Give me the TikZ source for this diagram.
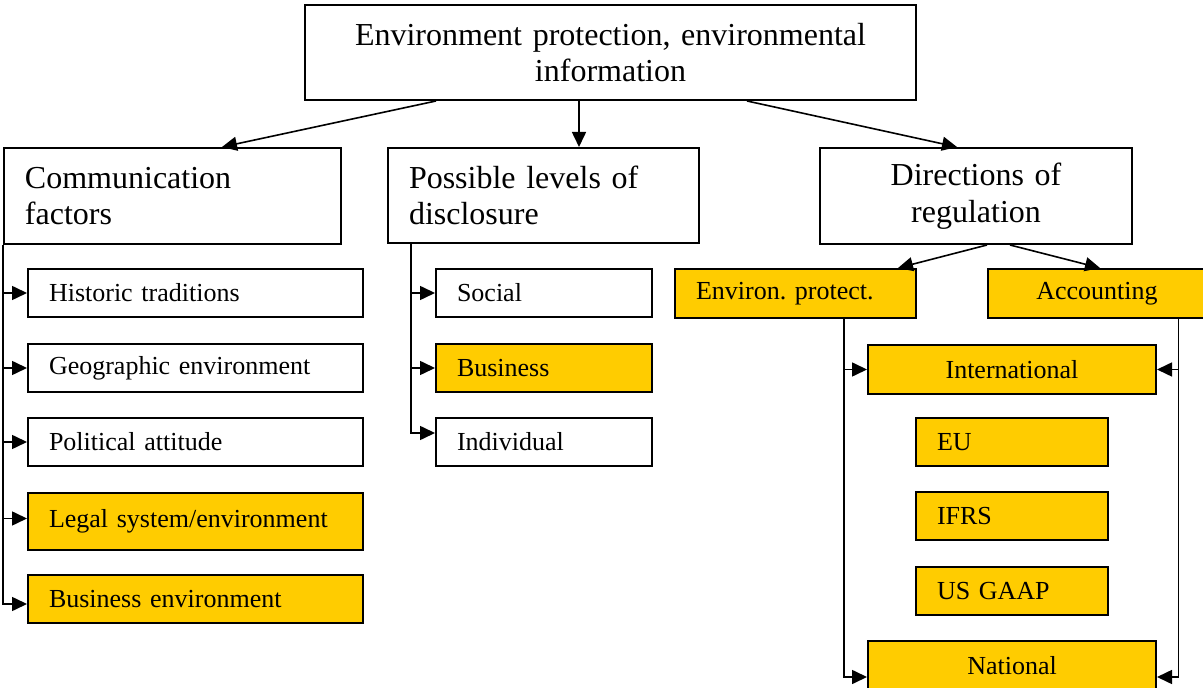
\documentclass[tikz,border=0pt]{standalone}
\usepackage{fontspec}
\setmainfont{Liberation Serif}
\usetikzlibrary{arrows.meta}
\definecolor{boxgold}{RGB}{255,204,0}
\frenchspacing
\tikzset{
  box/.style={draw, line width=1pt, anchor=north west, inner ysep=0pt, font=\fontsize{13}{15}\selectfont},
  leftbox/.style={box, inner xsep=10.5pt, align=left},
  midbox/.style={box, inner xsep=4pt, align=center},
  bigtext/.style={font=\fontsize{16}{18.3}\selectfont},
  gold/.style={fill=boxgold},
  link/.style={line width=0.8pt, -{Triangle[length=7.5pt,width=7pt]}}
}

\begin{document}
\begin{tikzpicture}[x=0.5pt, y=-0.5pt]
			%%%%% START %%%%%
			\useasboundingbox (0,0) rectangle (1203,688);
			
			\node[midbox, bigtext, text width=297.5pt, minimum height=47.5pt] (top) at (304,4) {Environment protection, environmental\\information};
			
			\node[leftbox, bigtext, text width=147.5pt, minimum height=48pt] (comm) at (3,147) {Communication\\factors};
			\node[leftbox, bigtext, text width=134.5pt, minimum height=47.5pt] (lev) at (387,147) {Possible levels of\\disclosure};
			\node[midbox, bigtext, text width=148pt, minimum height=48pt] (dirs) at (819,147) {Directions of\\regulation};
			
			\node[leftbox, text width=146.5pt, minimum height=24pt] (hist) at (27,268) {Historic traditions};
			\node[leftbox, text width=146.5pt, minimum height=24pt] (geo) at (27,343) {Geographic environment};
			\node[leftbox, text width=146.5pt, minimum height=24pt] (pol) at (27,417) {Political attitude};
			\node[leftbox, gold, text width=146.5pt, minimum height=28.5pt] (legal) at (27,492) {Legal system/environment};
			\node[leftbox, gold, text width=146.5pt, minimum height=24pt] (busenv) at (27,574) {Business environment};
			
			\node[leftbox, text width=87pt, minimum height=24pt] (soc) at (435,268) {Social};
			\node[leftbox, gold, text width=87pt, minimum height=24pt] (bus) at (435,343) {Business};
			\node[leftbox, text width=87pt, minimum height=24pt] (ind) at (435,417) {Individual};
			
			\node[leftbox, gold, text width=99.5pt, minimum height=24.5pt] (env) at (674,268) {Environ. protect.};
			\node[midbox, gold, text width=101pt, minimum height=24.5pt] (acc) at (987,268) {Accounting};
			\node[midbox, gold, text width=136pt, minimum height=24.5pt] (intl) at (867,344) {International};
			\node[leftbox, gold, text width=75pt, minimum height=24pt] (eu) at (915,417) {EU};
			\node[leftbox, gold, text width=75pt, minimum height=24pt] (ifrs) at (915,491) {IFRS};
			\node[leftbox, gold, text width=75pt, minimum height=24pt] (usgaap) at (915,566) {US GAAP};
			\node[midbox, gold, text width=136pt, minimum height=25pt] (natl) at (867,640) {National};
			
			% from the top box
			\draw[link] ([xshift=66pt]top.south west) -- ([xshift=109.5pt]comm.north west);
			\draw[link] ([xshift=137.5pt]top.south west) -- ([xshift=96pt]lev.north west);
			\draw[link] ([xshift=221.5pt]top.south west) -- ([xshift=69pt]dirs.north west);
			
			% communication factors
			\draw[link] (comm.south west) |- (hist.west);
			\draw[link] (comm.south west) |- (geo.west);
			\draw[link] (comm.south west) |- (pol.west);
			\draw[link] (comm.south west) |- ([yshift=1.5pt]legal.west);
			\draw[link] (comm.south west) |- ([yshift=-2.5pt]busenv.west);
			
			% levels of disclosure
			\coordinate (lspine) at ([xshift=12pt]lev.south west);
			\draw[link] (lspine) |- (soc.west);
			\draw[link] (lspine) |- (bus.west);
			\draw[link] (lspine) |- ([yshift=4.5pt]ind.west);
			
			% directions of regulation
			\draw[link] ([xshift=84pt]dirs.south west) -- ([xshift=112pt]env.north west);
			\draw[link] ([xshift=95.5pt]dirs.south west) -- ([xshift=56.5pt]acc.north west);
			\coordinate (espine) at ([xshift=85pt]env.south west);
			\coordinate (aspine) at ([xshift=95.75pt]acc.south west);
			\draw[link] (espine) |- (intl.west);
			\draw[link] (espine) |- ([yshift=-5.5pt]natl.west);
			\draw[link] (aspine) |- (intl.east);
			\draw[link] (aspine) |- ([yshift=-5.5pt]natl.east);
			
			%%%%% END %%%%%
\end{tikzpicture}
\end{document}
